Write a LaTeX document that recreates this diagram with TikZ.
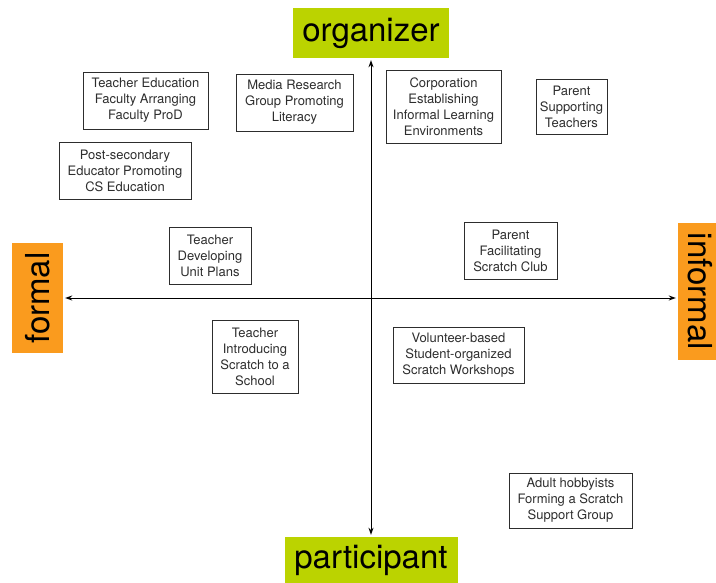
\documentclass[tikz,border=0pt]{standalone}
\usepackage{fontspec}
\setmainfont{TeX Gyre Heros}
\usetikzlibrary{arrows.meta}
\definecolor{polegreen}{RGB}{187,211,0}
\definecolor{poleorange}{RGB}{250,155,30}
\definecolor{boxgray}{RGB}{45,45,45}
\tikzset{
  role/.style={draw=boxgray, line width=0.8pt, align=center, inner sep=0pt,
    text=boxgray, font=\fontsize{13}{16}\selectfont},
  pole/.style={inner sep=0pt, font=\fontsize{33}{33}\selectfont},
  axis/.style={line width=1pt, <->, >={Stealth[length=7pt,width=5pt]},
    shorten <=2pt, shorten >=2pt},
}

\begin{document}
\begin{tikzpicture}[x=1pt, y=-1pt]
    \clip (0,0) rectangle (716,582);

    % poles of the two axes
    \node [pole, fill=polegreen, minimum width=156, minimum height=50] (org) at (371,33) {organizer};
    \node [pole, fill=polegreen, minimum width=173, minimum height=46] (part) at (371,560) {participant};
    \node [pole, fill=poleorange, rotate=90, minimum width=110, minimum height=51] (formal) at (37.5,298) {formal};
    \node [pole, fill=poleorange, rotate=-90, minimum width=137, minimum height=44] (informal) at (700,291.5) {informal};

    % axes
    \draw [axis] (org.south) -- (part.north);
    \draw [axis] (formal.south) -- (formal.south -| informal.south);

    % upper left
    \node [role, minimum width=125, minimum height=57] (tefac) at (145.5,100.5) {Teacher Education\\Faculty Arranging\\Faculty ProD};
    \node [role, minimum width=117, minimum height=57] (media) at (294.5,102.5) {Media Research\\Group Promoting\\Literacy};
    \node [role, minimum width=132, minimum height=57] (postsec) at (125,170.5) {Post-secondary\\Educator Promoting\\CS Education};
    \node [role, minimum width=82, minimum height=57] (unitplan) at (210,255.5) {Teacher\\Developing\\Unit Plans};

    % upper right
    \node [role, minimum width=115, minimum height=73] (corp) at (443.5,106.5) {Corporation\\Establishing\\Informal Learning\\Environments};
    \node [role, minimum width=71, minimum height=55] (parsup) at (571.5,106.5) {Parent\\Supporting\\Teachers};
    \node [role, minimum width=93, minimum height=57] (parclub) at (510.5,250.5) {Parent\\Facilitating\\Scratch Club};

    % lower half
    \node [role, minimum width=86, minimum height=73] (intro) at (255,356.5) {Teacher\\Introducing\\Scratch to a\\School};
    \node [role, minimum width=131, minimum height=56] (volunteer) at (458.5,355) {Volunteer-based\\Student-organized\\Scratch Workshops};
    \node [role, minimum width=123, minimum height=55] (hobby) at (570.5,500.5) {Adult hobbyists\\Forming a Scratch\\Support Group};
\end{tikzpicture}
\end{document}
